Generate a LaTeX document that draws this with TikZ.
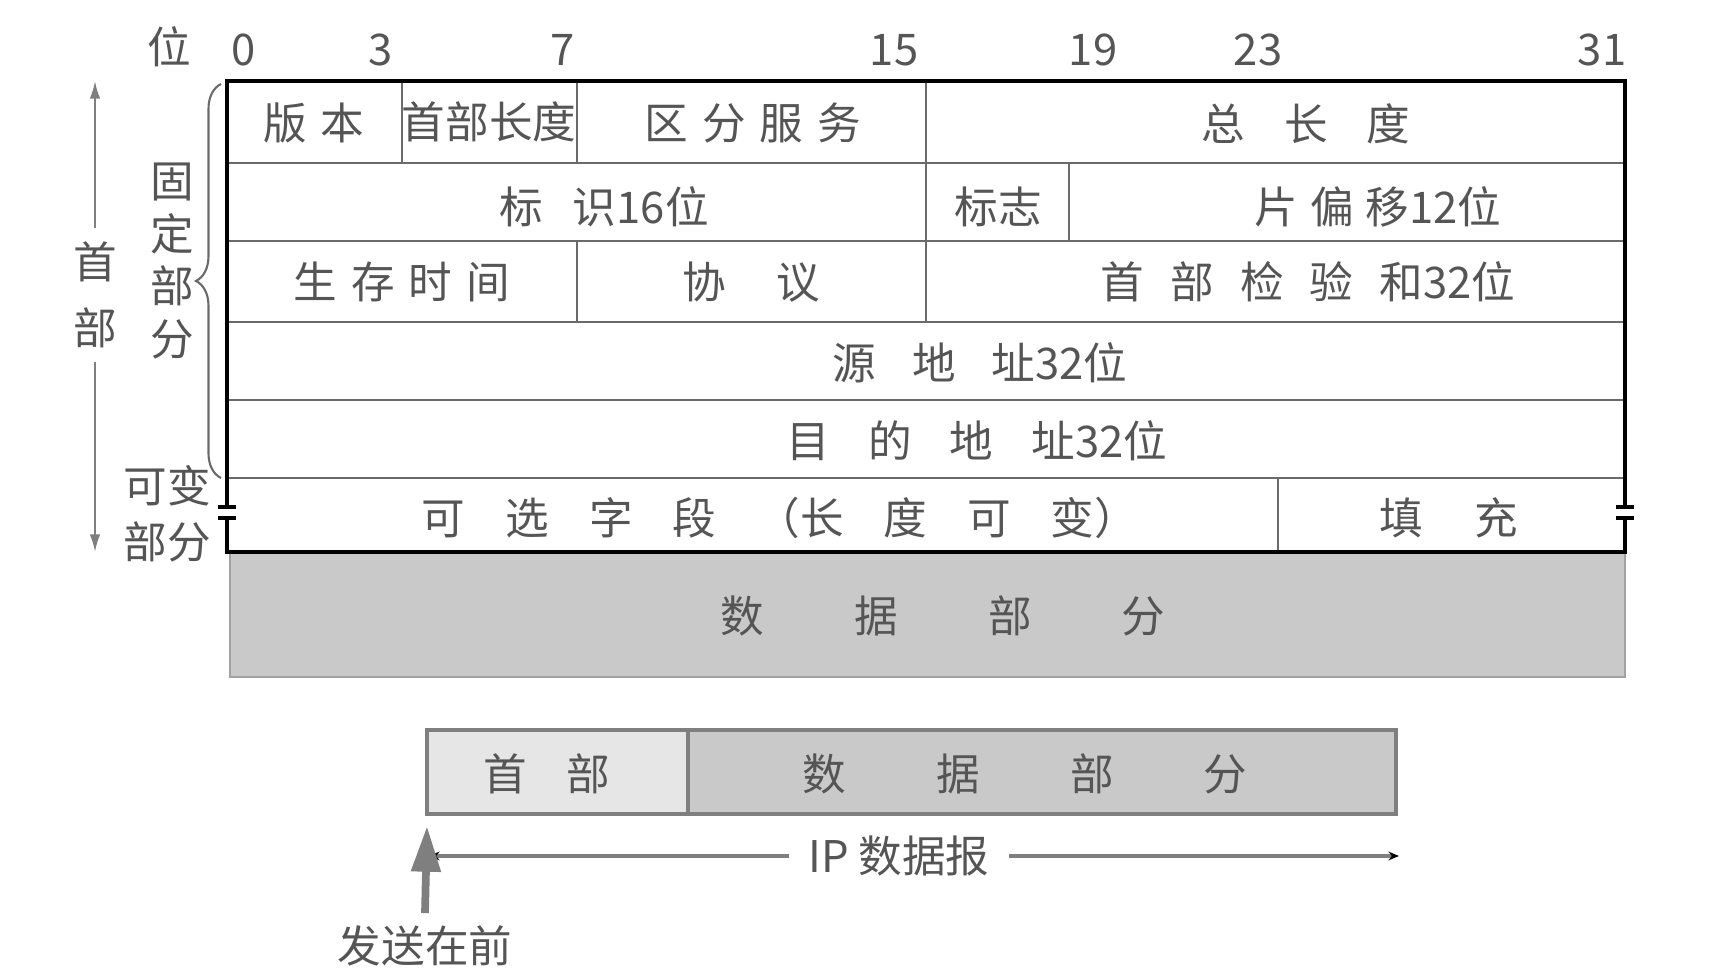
\documentclass[tikz,border=0pt]{standalone}
\usepackage{fontspec}
\newfontfamily\cjk{Noto Sans CJK SC}
\usetikzlibrary{arrows.meta,decorations.pathreplacing}
\definecolor{txtgray}{HTML}{555555}
\definecolor{linegray}{HTML}{6A6A6A}
\definecolor{datagray}{HTML}{C9C9C9}
\definecolor{hdrgray}{HTML}{E6E6E6}
\definecolor{boxgray}{HTML}{7F7F7F}
\newcommand{\chgap}[1]{\hspace{#1mm}}
\tikzset{
  lbl/.style={text=txtgray, font=\cjk\fontsize{12.4}{15}\selectfont, inner sep=0pt},
  outer/.style={line width=0.9pt, black},
  inner/.style={line width=0.6pt, linegray},
  sidearrow/.style={line width=0.6pt, draw=boxgray, -{Latex[length=5pt,width=3pt]}},
  iparrow/.style={line width=0.9pt, draw=boxgray, -{Stealth[length=3pt,width=2.5pt,black]}},
  sendarrow/.style={line width=2.2pt, draw=boxgray, -{Triangle[length=13pt,width=8pt]}},
}

\begin{document}
\begin{tikzpicture}[x=0.01cm, y=-0.01cm]
  \useasboundingbox (0,0) rectangle (1734,968);

  % coordinates to be reused
  \coordinate (hdrtop) at (95,81);
  \coordinate (hdrbot) at (95,552);
  \coordinate (ipl) at (429,856);
  \coordinate (ipr) at (1399,856);
  \coordinate (sendtip) at (427,826);

  % data part below the header
  \draw[fill=datagray, draw=datagray!80!black, line width=0.4pt] (230,552) rectangle (1625,677);

  % header box
  \foreach \y in {163,241,322,400,478}
    \draw[inner] (227,\y) -- (1625,\y);
  \draw[inner] (402,81) -- (402,163);
  \draw[inner] (577,81) -- (577,163);
  \draw[inner] (926,81) -- (926,322);
  \draw[inner] (1069,163) -- (1069,241);
  \draw[inner] (577,241) -- (577,322);
  \draw[inner] (1278,478) -- (1278,552);
  \draw[outer] (227,507) -- (227,81) -- (1625,81) -- (1625,507);
  \draw[outer] (227,518) -- (227,552) -- (1625,552) -- (1625,518);
  \foreach \x in {227,1625} {
    \draw[outer] (\x-9,507) -- (\x+9,507);
    \draw[outer] (\x-9,518) -- (\x+9,518);
  }

  % bit numbers
  \node[lbl] (bitlbl) at (169,47) {位};
  \foreach \b/\x in {0/244,3/381,7/563,15/894,19/1093,23/1258,31/1602}
    \node[lbl] (bit\b) at (\x,50) {\b};

  % add labels
  \node[lbl] (ver) at (314,123) {版\chgap{1.4}本};
  \node[lbl] (ihl) at (489,122) {首部长度};
  \node[lbl] (tos) at (753,123) {区\chgap{1.4}分\chgap{1.4}服\chgap{1.4}务};
  \node[lbl] (totlen) at (1306,124) {总\chgap{3.9}长\chgap{3.9}度};
  \node[lbl] (ident) at (604,207) {标\chgap{3.0}识16位};
  \node[lbl] (flags) at (998,207) {标志};
  \node[lbl] (frag) at (1378,207) {片\chgap{1.2}偏\chgap{1.2}移12位};
  \node[lbl] (ttl) at (402,282) {生\chgap{1.4}存\chgap{1.4}时\chgap{1.4}间};
  \node[lbl] (proto) at (751,282) {协\chgap{5.0}议};
  \node[lbl] (cksum) at (1308,282) {首\chgap{2.6}部\chgap{2.6}检\chgap{2.6}验\chgap{2.6}和32位};
  \node[lbl] (src) at (980,363) {源\chgap{3.6}地\chgap{3.6}址32位};
  \node[lbl] (dst) at (977,441) {目\chgap{3.8}的\chgap{3.8}地\chgap{3.8}址32位};
  \node[lbl] (opt) at (780,518) {可\chgap{4.0}选\chgap{4.0}字\chgap{4.0}段\chgap{4.0}（长\chgap{4.0}度\chgap{4.0}可\chgap{4.0}变）};
  \node[lbl] (pad) at (1449,518) {填\chgap{5.1}充};
  \node[lbl] (data) at (943,616) {数\chgap{9.0}据\chgap{9.0}部\chgap{9.0}分};

  % left side
  \node[lbl, align=center, inner ysep=0.13cm] (hdr) at (95,295) {首\\[0.13cm]部};
  \draw[sidearrow] (hdr.north) -- (hdrtop);
  \draw[sidearrow] (hdr.south) -- (hdrbot);
  \node[lbl, align=center] (fixed) at (172,261) {固\\定\\部\\分};
  \draw[decorate, decoration={brace, amplitude=0.25cm}, inner] (221,478) -- (221,84);
  \node[lbl, align=center] (var) at (167,514) {可变\\[0.03cm]部分};

  % datagram below
  \draw[fill=hdrgray, draw=boxgray, line width=1.3pt] (427,730) rectangle (688,814);
  \draw[fill=datagray, draw=boxgray, line width=1.3pt] (688,730) rectangle (1396,814);
  \node[lbl] (dghdr) at (547,774) {首\chgap{4.0}部};
  \node[lbl] (dgdata) at (1025,774) {数\chgap{9.0}据\chgap{9.0}部\chgap{9.0}分};
  \node[lbl, inner xsep=0.19cm] (ipd) at (899,856) {IP 数据报};
  \draw[iparrow] (ipd.west) -- (ipl);
  \draw[iparrow] (ipd.east) -- (ipr);
  \node[lbl, inner ysep=0.12cm] (send) at (425,946) {发送在前};
  \draw[sendarrow] (send.north) -- (sendtip);
\end{tikzpicture}
\end{document}
